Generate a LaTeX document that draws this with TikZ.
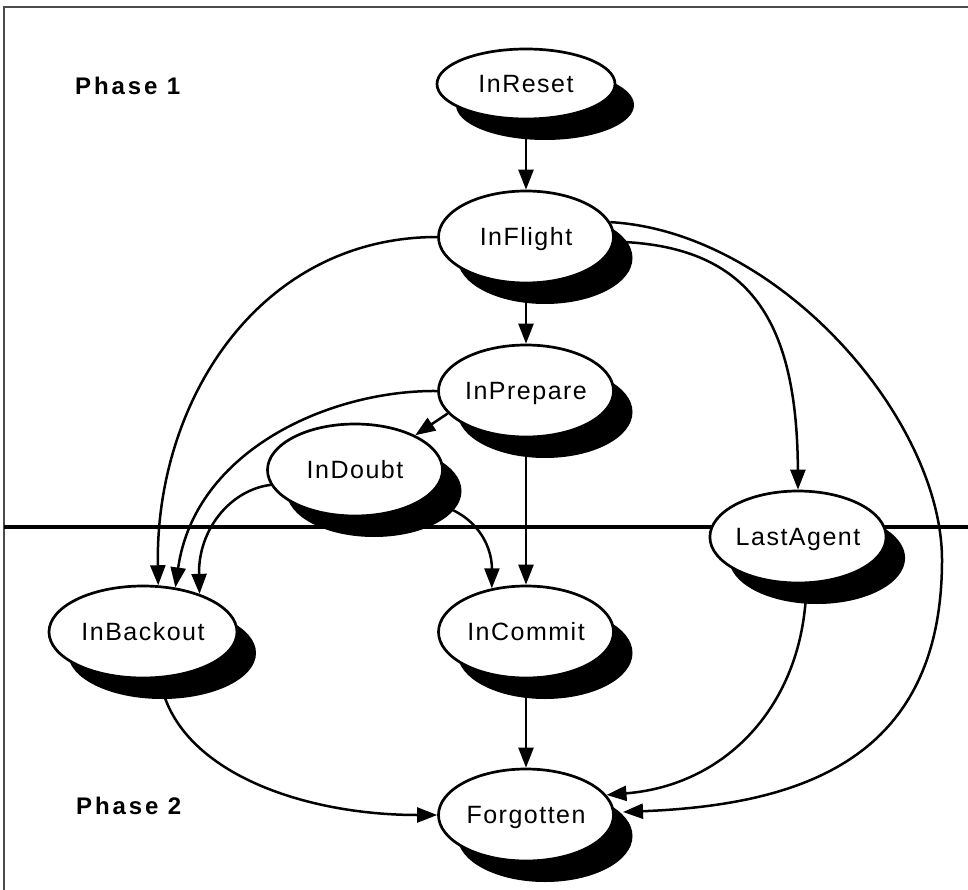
\documentclass[tikz,border=0pt]{standalone}
\usepackage{fontspec}
\setmainfont{Liberation Sans}
\newfontfamily\nodefont[LetterSpace=6]{Liberation Sans}
\newfontfamily\phasefont[LetterSpace=12]{Liberation Sans}
\usetikzlibrary{shapes.geometric,shadows,arrows.meta}
\begin{document}
\begin{tikzpicture}[x=1pt,y=-1pt,
  state/.style={ellipse,draw=black,line width=2.7pt,fill=white,
    minimum width=175pt,minimum height=92pt,inner sep=0pt,
    font=\nodefont\fontsize{25}{30}\selectfont,text height=17.9pt,text depth=0pt,
    drop shadow={shadow xshift=19pt,shadow yshift=-21pt,fill=black,opacity=1}},
  arr/.style={line width=2.5pt,-{Triangle[length=20pt,width=15pt]}},
  phase/.style={font=\phasefont\bfseries\fontsize{24}{28}\selectfont,anchor=west,
    inner sep=0pt,text height=17.2pt,text depth=0pt},
  frameline/.style={line width=1.5pt,black!70},
  divider/.style={line width=3.2pt}]
\useasboundingbox (0,0) rectangle (968,890);
\draw[frameline] (4,890) -- (4,7) -- (968,7);
\draw[divider] (4,527) -- (968,527);

\node[phase] (ph1) at (75,86) {Phase 1};
\node[phase] (ph2) at (76,806) {Phase 2};

\node[state,minimum height=70pt,minimum width=178pt] (InReset) at (526,84) {InReset};
\node[state] (InFlight) at (526,237) {InFlight};
\node[state] (InPrepare) at (526,391) {InPrepare};
\node[state] (InDoubt) at (355,470) {InDoubt};
\node[state] (LastAgent) at (798,537) {LastAgent};
\node[state,minimum width=188pt] (InBackout) at (143,632) {InBackout};
\node[state] (InCommit) at (526,632) {InCommit};
\node[state] (Forgotten) at (526,815) {Forgotten};

\draw[arr] (InReset.south) -- (InFlight.north);
\draw[arr] (InFlight.south) -- (InPrepare.north);
\draw[arr] (InPrepare.south) -- (InCommit.north);
\draw[arr] (InCommit.south) -- (Forgotten.north);
\draw[arr] (InFlight.west) .. controls (260,237) and (155,400) .. (InBackout.72);
\draw[arr] (InPrepare.west) .. controls (330,390) and (195,450) .. (InBackout.54);
\draw[arr] (InDoubt.190) .. controls (230,490) and (198,530) .. (InBackout.34);
\draw[arr] (InPrepare.196) -- (InDoubt.30);
\draw[arr] (InDoubt.-25) .. controls (475,508) and (492,545) .. (InCommit.128);
\draw[arr] (InFlight.-3) .. controls (750,245) and (797,320) .. (LastAgent.north);
\draw[arr] (InFlight.10) .. controls (780,232) and (942,420) .. (942,560)
  .. controls (942,760) and (800,805) .. ([shift={(97,-3)}]Forgotten.center);
\draw[arr] (LastAgent.-80) .. controls (805,700) and (730,785) .. (Forgotten.14);
\draw[arr] (InBackout.-70) .. controls (175,770) and (300,815) .. (Forgotten.west);
\end{tikzpicture}
\end{document}
